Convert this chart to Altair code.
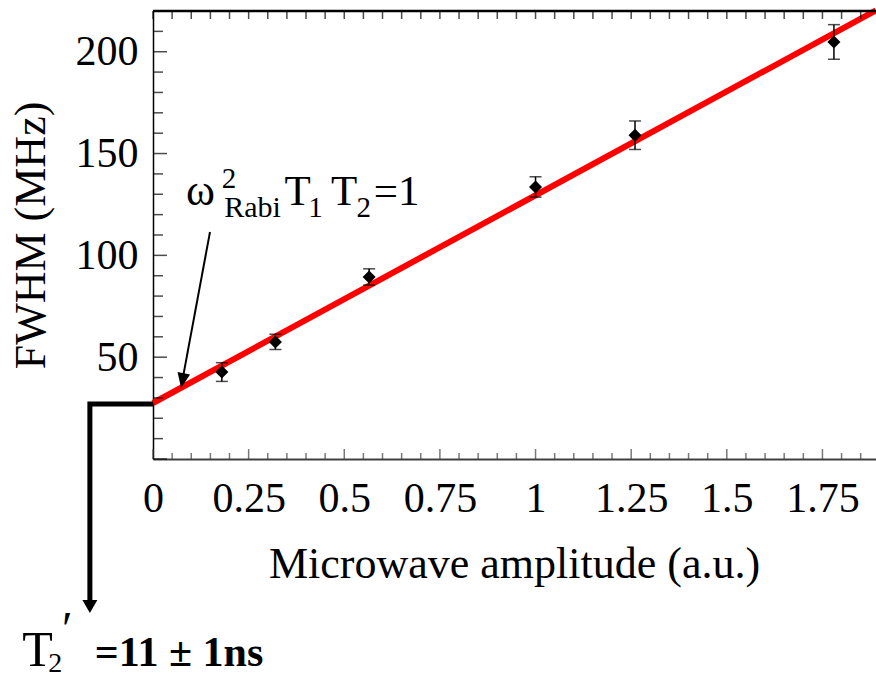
import altair as alt
import pandas as pd
import numpy as np

# ---- data ----
amp = [0.18, 0.32, 0.565, 1.0, 1.26, 1.78]
fwhm = [42.7, 57.5, 89.4, 133.6, 159.0, 204.8]
err = [4.6, 3.7, 4.0, 5.0, 7.0, 8.5]

fit_amp = [0.0, 1.89]
fit_fwhm = [27.5, 220.3]

x_label_values = [0, 0.25, 0.5, 0.75, 1, 1.25, 1.5, 1.75]
y_label_values = [50, 100, 150, 200]

X_DOMAIN = [0, 1.89]
Y_DOMAIN = [0, 220]

# annotation texts (positions in data units)
ann_text = ["ω", "2", "Rabi", "T", "1", "T", "2", "=1", "T", "2", "′"]
ann_x = [0.086, 0.180, 0.186, 0.344, 0.406, 0.465, 0.532, 0.577, -0.342, -0.274, -0.238]
ann_y = [124.8, 133.0, 118.9, 124.8, 118.9, 124.8, 118.9, 124.8, -101.7, -104.6, -91.4]
ann_size = [44, 29, 30, 43, 29, 43, 29, 43, 50, 28, 48]

bold_text = ["=11 ± 1ns"]
bold_x = [-0.152]
bold_y = [-101.7]

# arrow from formula to the fit line
arrow_x = [0.149, 0.079]
arrow_y = [111.5, 40.8]
arrow_head_x = [0.077]
arrow_head_y = [38.5]

# intercept bracket arrow
bracket_x = [0.0, -0.165, -0.165]
bracket_y = [27.0, 27.0, -69.7]
bracket_head_x = [-0.165]
bracket_head_y = [-72.4]

# axis tick positions
x_ticks = [round(0.05 * i, 2) for i in range(0, 38)]
y_ticks = list(range(0, 221, 10))

FONT = "Liberation Serif"

x_scale = alt.Scale(domain=X_DOMAIN, nice=False, zero=False)
y_scale = alt.Scale(domain=Y_DOMAIN, nice=False, zero=False)

pts = pd.DataFrame({"amp": amp, "fwhm": fwhm, "err": err})
pts["lo"] = pts["fwhm"] - pts["err"]
pts["hi"] = pts["fwhm"] + pts["err"]
caps = pd.concat([
    pd.DataFrame({"amp": amp, "v": pts["lo"]}),
    pd.DataFrame({"amp": amp, "v": pts["hi"]}),
])

fit = pd.DataFrame({"amp": fit_amp, "fwhm": fit_fwhm})

x_axis = alt.Axis(
    values=x_label_values, format=".3~g", title="Microwave amplitude (a.u.)",
    labelFont=FONT, labelFontSize=42, labelColor="black", labelPadding=52,
    labelBaseline="alphabetic", labelFlush=False, labelOverlap=False,
    ticks=False, tickSize=0, grid=False,
    domainColor="#404040", domainWidth=2,
    titleFont=FONT, titleFontSize=44, titleFontWeight="normal", titleColor="black",
    titleX=361, titleY=118, titleBaseline="alphabetic", titleAlign="center",
)
y_axis = alt.Axis(
    values=y_label_values, title="FWHM (MHz)",
    labelFont=FONT, labelFontSize=42, labelColor="black", labelPadding=15,
    labelFlush=False, labelOverlap=False,
    ticks=False, tickSize=0, grid=False,
    domainColor="black", domainWidth=1.5,
    titleFont=FONT, titleFontSize=44, titleFontWeight="normal", titleColor="black",
    titleX=-122, titleY=224, titleAngle=270, titleAlign="center", titleBaseline="middle",
)

fit_line = alt.Chart(fit).mark_line(color="#ff0000", strokeWidth=6).encode(
    x=alt.X("amp:Q", scale=x_scale, axis=x_axis),
    y=alt.Y("fwhm:Q", scale=y_scale, axis=y_axis),
)

bars = alt.Chart(pts).mark_rule(color="black", strokeWidth=1.5).encode(
    x="amp:Q", y="lo:Q", y2="hi:Q"
)
cap_marks = alt.Chart(caps).mark_tick(color="black", orient="horizontal", size=12, thickness=1.5).encode(
    x="amp:Q", y="v:Q"
)
diamonds = alt.Chart(pts).mark_point(shape="diamond", filled=True, size=170, color="black", opacity=1).encode(
    x="amp:Q", y="fwhm:Q"
)

# inward axis ticks
xt = pd.DataFrame({"t": x_ticks})
xt["major"] = [abs(v / 0.25 - round(v / 0.25)) < 1e-6 for v in x_ticks]
yt = pd.DataFrame({"t": y_ticks})
yt["major"] = [v % 50 == 0 for v in y_ticks]

bottom_minor = alt.Chart(xt[~xt["major"]]).mark_tick(color="#404040", orient="vertical", size=6, thickness=1.5, yOffset=-3).encode(
    x="t:Q", y=alt.datum(0))
bottom_major = alt.Chart(xt[xt["major"]]).mark_tick(color="#404040", orient="vertical", size=10, thickness=1.5, yOffset=-5).encode(
    x="t:Q", y=alt.datum(0))
top_ticks = alt.Chart(xt).mark_tick(color="black", orient="vertical", size=8, thickness=1.5, yOffset=4).encode(
    x="t:Q", y=alt.datum(220))
left_minor = alt.Chart(yt[~yt["major"]]).mark_tick(color="black", orient="horizontal", size=10, thickness=1.5, xOffset=5).encode(
    y="t:Q", x=alt.datum(0))
left_major = alt.Chart(yt[yt["major"]]).mark_tick(color="black", orient="horizontal", size=14, thickness=1.5, xOffset=7).encode(
    y="t:Q", x=alt.datum(0))

top_frame = alt.Chart(pd.DataFrame({"a": [X_DOMAIN[0]], "b": [X_DOMAIN[1]], "y": [Y_DOMAIN[1]]})).mark_rule(
    color="black", strokeWidth=2.5).encode(x="a:Q", x2="b:Q", y="y:Q")

# annotations
ann = pd.DataFrame({"text": ann_text, "x": ann_x, "y": ann_y, "size": ann_size})
ann_marks = alt.Chart(ann).mark_text(font=FONT, color="black", align="left", baseline="alphabetic").encode(
    x="x:Q", y="y:Q", text="text:N", size=alt.Size("size:Q", scale=None, legend=None))
bold = pd.DataFrame({"text": bold_text, "x": bold_x, "y": bold_y})
bold_marks = alt.Chart(bold).mark_text(font=FONT, fontWeight="bold", fontSize=42, color="black",
                                       align="left", baseline="alphabetic").encode(
    x="x:Q", y="y:Q", text="text:N")

arrow = pd.DataFrame({"x": arrow_x, "y": arrow_y, "o": [0, 1]})
arrow_line = alt.Chart(arrow).mark_line(color="black", strokeWidth=2).encode(
    x="x:Q", y="y:Q", order="o:Q")
HEAD = "M-0.85,-1L0.85,-1L0,1Z"
arrow_head = alt.Chart(pd.DataFrame({"x": arrow_head_x, "y": arrow_head_y})).mark_point(
    shape=HEAD, filled=True, size=225, color="black", opacity=1, angle=10.5).encode(x="x:Q", y="y:Q")

bracket = pd.DataFrame({"x": bracket_x, "y": bracket_y, "o": [0, 1, 2]})
bracket_line = alt.Chart(bracket).mark_line(color="black", strokeWidth=5, strokeJoin="miter").encode(
    x="x:Q", y="y:Q", order="o:Q")
bracket_head = alt.Chart(pd.DataFrame({"x": bracket_head_x, "y": bracket_head_y})).mark_point(
    shape="M-1,-0.87L1,-0.87L0,0.87Z", filled=True, size=225, color="black", opacity=1).encode(x="x:Q", y="y:Q")

chart = alt.layer(
    fit_line, bottom_minor, bottom_major, top_ticks, left_minor, left_major, top_frame,
    bars, cap_marks, diamonds,
    arrow_line, arrow_head, bracket_line, bracket_head,
    ann_marks, bold_marks,
).properties(
    width=723, height=448,
    autosize=alt.AutoSizeParams(type="none"),
    padding={"left": 153, "top": 11, "right": 0, "bottom": 220},
    background="white",
).configure_view(stroke=None)

chart.save("out.html", embed_options={"renderer": "svg", "actions": False})
